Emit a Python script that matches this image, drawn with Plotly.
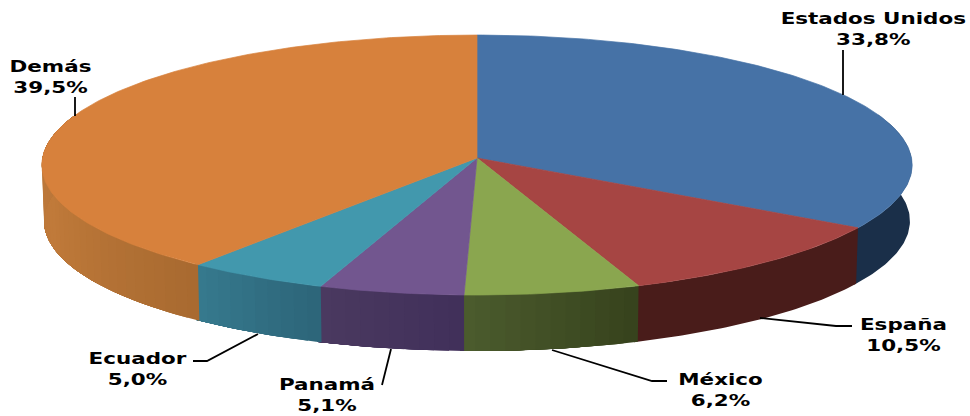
import math
import plotly.graph_objects as go

# Data
categories = ["Estados Unidos", "España", "México", "Panamá", "Ecuador", "Demás"]
values = [33.8, 10.5, 6.2, 5.1, 5.0, 39.5]
value_labels = ["33,8%", "10,5%", "6,2%", "5,1%", "5,0%", "39,5%"]

# Styling
top_colors = ["#4672a6", "#a64543", "#8aa64f", "#72568f", "#4298ad", "#d7813c"]
wall_stops = [
    ["#1a2f49", "#1a2f49"],
    ["#491c1a", "#491c1a"],
    ["#36421c", "#4c5c2e"],
    ["#40305a", "#4b3960"],
    ["#2d6579", "#367a8e"],
    ["#a86a30", "#c07a3a", "#b8753a"],
]
label_x = [873, 903, 720, 327, 138, 50]
label_y = [28.5, 334.5, 390, 395, 368.5, 76.5]
leader_x = [[843, 843], [760, 836, 852], [552, 652, 667], [391, 382], [258, 207, 193], [75, 75]]
leader_y = [[95, 50], [318, 326, 326], [350, 381, 381], [349, 385], [334, 361, 361], [116, 97]]

# Projection of the tilted disc
CX, CY, RX, RY, PERSP, DEPTH, BOTTOM_SCALE = 477, 158, 434.5, 129.6, 0.054, 56, 0.995


def project(theta_deg, lower=False):
    t = math.radians(theta_deg)
    u, v = math.sin(t), math.cos(t)
    s = 1 / (1 + PERSP * v)
    k = BOTTOM_SCALE if lower else 1
    return CX + RX * u * s * k, CY - RY * v * s + (DEPTH if lower else 0)


def lerp_color(stops, f):
    f = max(0, min(1, f)) * (len(stops) - 1)
    i = min(int(f), len(stops) - 2)
    a, b = stops[i], stops[i + 1]
    w = f - i
    ca = [int(a[j:j + 2], 16) for j in (1, 3, 5)]
    cb = [int(b[j:j + 2], 16) for j in (1, 3, 5)]
    return "#%02x%02x%02x" % tuple(round(x + (y - x) * w) for x, y in zip(ca, cb))


def poly(xs, ys, color, lw):
    return go.Scatter(x=xs, y=ys, mode="lines", fill="toself", fillcolor=color,
                      line=dict(color=color, width=lw), hoverinfo="skip", showlegend=False)


def arc(a0, a1, lower=False):
    n = max(2, math.ceil((a1 - a0) / 0.75))
    return [project(a0 + (a1 - a0) * k / n, lower) for k in range(n + 1)]


total = sum(values)
edges = [0.0]
for val in values:
    edges.append(edges[-1] + val / total * 360)

fig = go.Figure()

# Side wall: each shade is painted from its start to just past the slice's end,
# so later paint covers earlier paint and no seams appear
for i in range(len(values)):
    a0, a1 = max(edges[i], 70), min(edges[i + 1] + 0.5, 290)
    if a1 <= a0:
        continue
    n = max(1, math.ceil((a1 - a0) / 2.0))
    if len(set(wall_stops[i])) == 1:
        n = 1
    for k in range(n):
        t0 = a0 + (a1 - a0) * k / n
        c = lerp_color(wall_stops[i], (k + 0.5) / n)
        pts = arc(t0, a1) + arc(t0, a1, True)[::-1]
        pts.append(pts[0])
        fig.add_trace(poly([p[0] for p in pts], [p[1] for p in pts], c, 0))

# Top face
for i in range(len(values)):
    pts = [(CX, CY)] + arc(edges[i], edges[i + 1]) + [(CX, CY)]
    fig.add_trace(poly([p[0] for p in pts], [p[1] for p in pts], top_colors[i], 0.7))

# Leader lines
for xs, ys in zip(leader_x, leader_y):
    fig.add_trace(go.Scatter(x=xs, y=ys, mode="lines", line=dict(color="#000000", width=1.8),
                             hoverinfo="skip", showlegend=False))

# Labels
for name, pct, x, y in zip(categories, value_labels, label_x, label_y):
    fig.add_annotation(x=x, y=y, xref="x", yref="y", text=f"{name}<br>{pct}", showarrow=False,
                       xanchor="center", yanchor="middle", align="center",
                       font=dict(family="DejaVu Sans", size=16.5, color="#000000", weight="bold"))

fig.update_layout(
    width=970, height=416, margin=dict(l=0, r=0, t=0, b=0),
    paper_bgcolor="#ffffff", plot_bgcolor="#ffffff", showlegend=False,
    xaxis=dict(range=[0, 970], visible=False, fixedrange=True),
    yaxis=dict(range=[416, 0], visible=False, fixedrange=True),
)

# Remove the page margin, and widen each label about its centre because the
# reference's lettering is horizontally stretched
page_fix = """
document.documentElement.style.overflow = 'hidden';
document.body.style.margin = '0';
document.querySelectorAll('text.annotation-text').forEach(function (t) {
  var b = t.getBBox(), c = b.x + b.width / 2;
  t.setAttribute('transform', 'translate(' + c + ',0) scale(1.3,1) translate(' + (-c) + ',0)');
});
"""
fig.write_html("out.html", post_script=page_fix, config={"displayModeBar": False})
